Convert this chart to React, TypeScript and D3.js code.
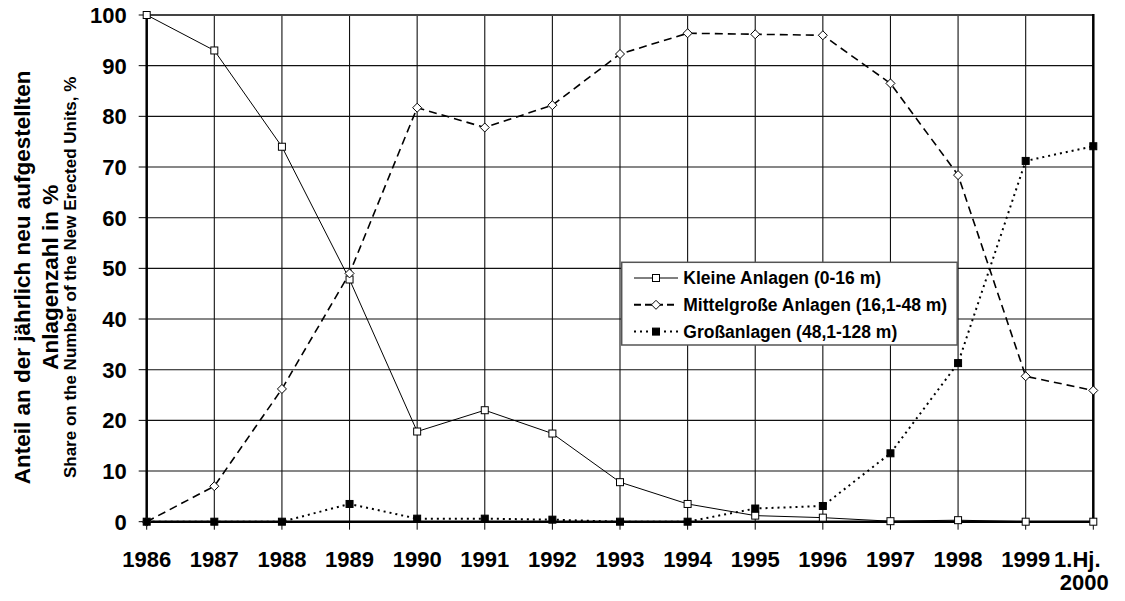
import React from "react";
import * as d3 from "d3";

const categories = ["1986","1987","1988","1989","1990","1991","1992","1993","1994","1995","1996","1997","1998","1999","1.Hj.|2000"];
const kleine = [100, 93, 74, 47.8, 17.8, 22.0, 17.4, 7.8, 3.5, 1.2, 0.8, 0.1, 0.3, 0, 0];
const mittel = [0, 7.0, 26.2, 49.0, 81.7, 77.8, 82.2, 92.3, 96.4, 96.2, 96.0, 86.5, 68.4, 28.7, 25.9];
const gross = [0, 0, 0, 3.5, 0.6, 0.6, 0.4, 0, 0, 2.6, 3.1, 13.5, 31.3, 71.2, 74.1];
const yTicks = [0, 10, 20, 30, 40, 50, 60, 70, 80, 90, 100];
const legendLabels = ["Kleine Anlagen (0-16 m)", "Mittelgroße Anlagen (16,1-48 m)", "Großanlagen (48,1-128 m)"];
const yTitle1 = "Anteil an der jährlich neu aufgestellten";
const yTitle2 = "Anlagenzahl in %";
const yTitle3 = "Share on the Number of the New Erected Units, %";

const W = 1125, H = 601;
const L = 146.7, R = 1093.3, T = 15, B = 521.7;
const FONT = "Arial, 'Liberation Sans', Helvetica, sans-serif";

export default function App() {
  const x = d3.scalePoint<string>().domain(categories).range([L, R]);
  const y = d3.scaleLinear().domain([0, 100]).range([B, T]);
  const line = d3.line<number>().x((_, i) => x(categories[i])!).y(d => y(d));

  const square = (cx: number, cy: number, fill: string, key: string) => (
    <rect key={key} x={cx - 3.5} y={cy - 3.5} width={7} height={7} fill={fill} stroke="#000" strokeWidth={1} />
  );
  const diamond = (cx: number, cy: number, key: string) => (
    <path key={key} d={`M${cx},${cy - 4.5}L${cx + 4.5},${cy}L${cx},${cy + 4.5}L${cx - 4.5},${cy}Z`} fill="#fff" stroke="#000" strokeWidth={1} />
  );

  const lgX = 621.7, lgY = 262.3, lgW = 335.5, lgH = 82.7;
  const rowY = [278, 304.8, 331.6];
  const sampleX0 = 634, sampleX1 = 678, sampleMid = 656;

  return (
    <svg width={W} height={H} style={{ position: "absolute", left: 0, top: 0, background: "#fff" }} fontFamily={FONT}>
      <rect x={0} y={0} width={W} height={H} fill="#fff" />
      {yTicks.filter(t => t > 0 && t < 100).map(t => (
        <line key={"hg" + t} x1={L} x2={R} y1={y(t)} y2={y(t)} stroke="#111" strokeWidth={1.1} />
      ))}
      {categories.slice(1, -1).map(c => (
        <line key={"vg" + c} x1={x(c)} x2={x(c)} y1={T} y2={B} stroke="#111" strokeWidth={1.1} />
      ))}
      <line x1={L} x2={R} y1={T} y2={T} stroke="#444" strokeWidth={2} />
      <line x1={R} x2={R} y1={T - 1} y2={B} stroke="#000" strokeWidth={2.5} />
      {yTicks.map(t => (
        <g key={"yt" + t}>
          <line x1={L - 8} x2={L} y1={y(t)} y2={y(t)} stroke="#000" strokeWidth={1} />
          <text x={126.7} y={y(t)} dy="0.36em" textAnchor="end" fontSize={22} fontWeight="bold">{t}</text>
        </g>
      ))}
      {categories.map(c => {
        const parts = c.split("|");
        return (
          <g key={"xt" + c}>
            <line x1={x(c)} x2={x(c)} y1={B} y2={B + 8} stroke="#000" strokeWidth={1} />
            {parts.map((p, k) => (
              <text key={k} x={x(c)! + (parts.length > 1 ? (k === 0 ? -16 : -9) : 0)} y={567 + k * 23} textAnchor="middle" fontSize={22} fontWeight="bold">{p}</text>
            ))}
          </g>
        );
      })}
      <line x1={L} x2={L} y1={T - 1} y2={B + 1} stroke="#000" strokeWidth={2.5} />
      <line x1={L - 1} x2={R + 1} y1={B} y2={B} stroke="#000" strokeWidth={2.5} />

      <path d={line(kleine)!} fill="none" stroke="#000" strokeWidth={1} />
      <path d={line(mittel)!} fill="none" stroke="#000" strokeWidth={1.6} strokeDasharray="8,5" />
      <path d={line(gross)!} fill="none" stroke="#000" strokeWidth={2} strokeDasharray="2,4" />

      {kleine.map((v, i) => square(x(categories[i])!, y(v), "#fff", "k" + i))}
      {mittel.map((v, i) => diamond(x(categories[i])!, y(v), "m" + i))}
      {gross.map((v, i) => square(x(categories[i])!, y(v), "#000", "g" + i))}

      <rect x={lgX} y={lgY} width={lgW} height={lgH} fill="#fff" stroke="#555" strokeWidth={1.5} />
      <line x1={sampleX0} x2={sampleX1} y1={rowY[0]} y2={rowY[0]} stroke="#000" strokeWidth={1} />
      {square(sampleMid, rowY[0], "#fff", "lk")}
      <line x1={sampleX0} x2={sampleX1} y1={rowY[1]} y2={rowY[1]} stroke="#000" strokeWidth={2} strokeDasharray="7,4" />
      {diamond(sampleMid, rowY[1], "lm")}
      <line x1={sampleX0} x2={sampleX1} y1={rowY[2]} y2={rowY[2]} stroke="#000" strokeWidth={2} strokeDasharray="2,4" />
      {square(sampleMid, rowY[2], "#000", "lg")}
      {legendLabels.map((s, i) => (
        <text key={"lt" + i} x={683.3} y={rowY[i]} dy="0.36em" fontSize={17.5} fontWeight="bold">{s}</text>
      ))}

      <g transform={`translate(0, ${(T + B) / 2 + 9}) rotate(-90)`}>
        <text x={0} y={29.5} textAnchor="middle" fontSize={22.5} fontWeight="bold">{yTitle1}</text>
        <text x={0} y={58} textAnchor="middle" fontSize={22.5} fontWeight="bold">{yTitle2}</text>
        <text x={0} y={76} textAnchor="middle" fontSize={17} fontWeight="bold">{yTitle3}</text>
      </g>
    </svg>
  );
}
